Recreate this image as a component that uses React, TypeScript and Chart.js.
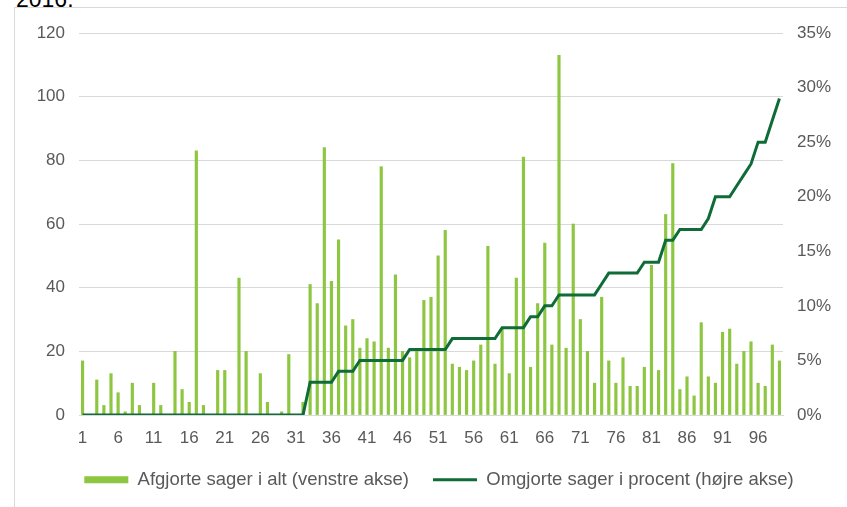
import React, { useEffect, useRef } from "react";
import { Chart, registerables } from "chart.js";

Chart.register(...registerables);

// ---- data ----
const categories = [
  "1","2","3","4","5","6","7","8","9","10",
  "11","12","13","14","15","16","17","18","19","20",
  "21","22","23","24","25","26","27","28","29","30",
  "31","32","33","34","35","36","37","38","39","40",
  "41","42","43","44","45","46","47","48","49","50",
  "51","52","53","54","55","56","57","58","59","60",
  "61","62","63","64","65","66","67","68","69","70",
  "71","72","73","74","75","76","77","78","79","80",
  "81","82","83","84","85","86","87","88","89","90",
  "91","92","93","94","95","96","97","98","99",
];

// Afgjorte sager i alt (venstre akse)
const decidedCases = [
  17, 0, 11, 3, 13, 7, 1, 10, 3, 0,
  10, 3, 0, 20, 8, 4, 83, 3, 0, 14,
  14, 0, 43, 20, 0, 13, 4, 0, 1, 19,
  0, 4, 41, 35, 84, 42, 55, 28, 30, 21,
  24, 23, 78, 21, 44, 20, 18, 20, 36, 37,
  50, 58, 16, 15, 14, 17, 22, 53, 16, 27,
  13, 43, 81, 15, 35, 54, 22, 113, 21, 60,
  30, 20, 10, 37, 17, 10, 18, 9, 9, 15,
  47, 14, 63, 79, 8, 12, 6, 29, 12, 10,
  26, 27, 16, 20, 23, 10, 9, 22, 17,
];

// Omgjorte sager i procent (højre akse)
const reversedPercent = [
  0, 0, 0, 0, 0, 0, 0, 0, 0, 0,
  0, 0, 0, 0, 0, 0, 0, 0, 0, 0,
  0, 0, 0, 0, 0, 0, 0, 0, 0, 0,
  0, 0, 3, 3, 3, 3, 4, 4, 4, 5,
  5, 5, 5, 5, 5, 5, 6, 6, 6, 6,
  6, 6, 7, 7, 7, 7, 7, 7, 7, 8,
  8, 8, 8, 9, 9, 10, 10, 11, 11, 11,
  11, 11, 11, 12, 13, 13, 13, 13, 13, 14,
  14, 14, 16, 16, 17, 17, 17, 17, 18, 20,
  20, 20, 21, 22, 23, 25, 25, 27, 29,
];

const seriesLabels = [
  "Afgjorte sager i alt (venstre akse)",
  "Omgjorte sager i procent (højre akse)",
];

const leftAxis = { min: 0, max: 120, step: 20 };
const rightAxis = { min: 0, max: 35, step: 5 };
const labelEvery = 5;

// ---- style / layout ----
const W = 847;
const H = 507;
const FONT = "'Liberation Sans', Arial, Helvetica, sans-serif";
const PAD_LEFT = 31;
const PLOT_LEFT = 79;
const PLOT_RIGHT = 783;
const PLOT_TOP = 33;
const PLOT_BOTTOM = 415;
const PAD_BOTTOM = 8;
const BAR_GREEN = "#8dc640";
const LINE_GREEN = "#0f6b37";
const GRID = "#d9d9d9";
const TEXT = "#595959";

export default function App() {
  const ref = useRef<HTMLCanvasElement | null>(null);

  useEffect(() => {
    if (!ref.current) return;
    const chart = new Chart(ref.current, {
      type: "bar",
      data: {
        labels: categories,
        datasets: [
          {
            type: "bar",
            label: seriesLabels[0],
            data: decidedCases,
            backgroundColor: BAR_GREEN,
            borderWidth: 0,
            barThickness: 2.5,
            yAxisID: "y",
            order: 1,
            pointStyle: "rect",
          } as any,
          {
            type: "line",
            label: seriesLabels[1],
            data: reversedPercent,
            borderColor: LINE_GREEN,
            backgroundColor: LINE_GREEN,
            borderWidth: 3,
            pointRadius: 0,
            tension: 0,
            fill: false,
            yAxisID: "y1",
            order: 0,
            pointStyle: "line",
          } as any,
        ],
      },
      options: {
        responsive: false,
        animation: false,
        devicePixelRatio: 1,
        layout: { padding: { top: PLOT_TOP, left: PAD_LEFT, right: 0, bottom: PAD_BOTTOM } },
        plugins: {
          tooltip: { enabled: false },
          legend: {
            display: true,
            position: "bottom",
            align: "center",
            labels: {
              usePointStyle: true,
              pointStyleWidth: 44,
              boxHeight: 7,
              padding: 24,
              color: TEXT,
              font: { family: FONT, size: 18.5 },
              sort: (a: any, b: any) => a.datasetIndex - b.datasetIndex,
            },
          },
        },
        scales: {
          x: {
            grid: { display: false, drawTicks: false },
            border: { display: true, color: GRID, width: 1 },
            ticks: {
              autoSkip: false,
              maxRotation: 0,
              minRotation: 0,
              padding: 13,
              color: TEXT,
              font: { family: FONT, size: 17 },
              callback: (_v: any, i: number) => (i % labelEvery === 0 ? categories[i] : ""),
            },
            afterFit: (s: any) => {
              const lg = s.chart.legend ? s.chart.legend.height : 0;
              s.height = H - PAD_BOTTOM - lg - PLOT_BOTTOM;
            },
          },
          y: {
            position: "left",
            min: leftAxis.min,
            max: leftAxis.max,
            grid: { color: GRID, lineWidth: 1, drawTicks: false },
            border: { display: false },
            ticks: {
              stepSize: leftAxis.step,
              padding: 14,
              color: TEXT,
              font: { family: FONT, size: 17 },
            },
            afterFit: (s: any) => {
              s.width = PLOT_LEFT - PAD_LEFT;
            },
          },
          y1: {
            position: "right",
            min: rightAxis.min,
            max: rightAxis.max,
            grid: { display: false, drawTicks: false },
            border: { display: false },
            ticks: {
              stepSize: rightAxis.step,
              padding: 14,
              color: TEXT,
              font: { family: FONT, size: 17 },
              callback: (v: any) => `${v}%`,
            },
            afterFit: (s: any) => {
              s.width = W - PLOT_RIGHT;
            },
          },
        },
      } as any,
    });
    return () => chart.destroy();
  }, []);

  return (
    <div
      style={{
        position: "fixed",
        left: 0,
        top: 0,
        width: W,
        height: H,
        overflow: "hidden",
        background: "#ffffff",
      }}
    >
      <div
        style={{
          position: "absolute",
          left: 16,
          top: -12,
          fontFamily: FONT,
          fontSize: 23,
          lineHeight: "23px",
          color: "#000000",
        }}
      >
        2016.
      </div>
      <div
        style={{
          position: "absolute",
          left: 14,
          top: 7,
          width: 840,
          height: 600,
          borderTop: `1px solid ${GRID}`,
          borderLeft: `1px solid ${GRID}`,
          borderRight: `1px solid ${GRID}`,
        }}
      />
      <canvas
        ref={ref}
        width={W}
        height={H}
        style={{ position: "absolute", left: 0, top: 0, width: W, height: H, display: "block" }}
      />
    </div>
  );
}
